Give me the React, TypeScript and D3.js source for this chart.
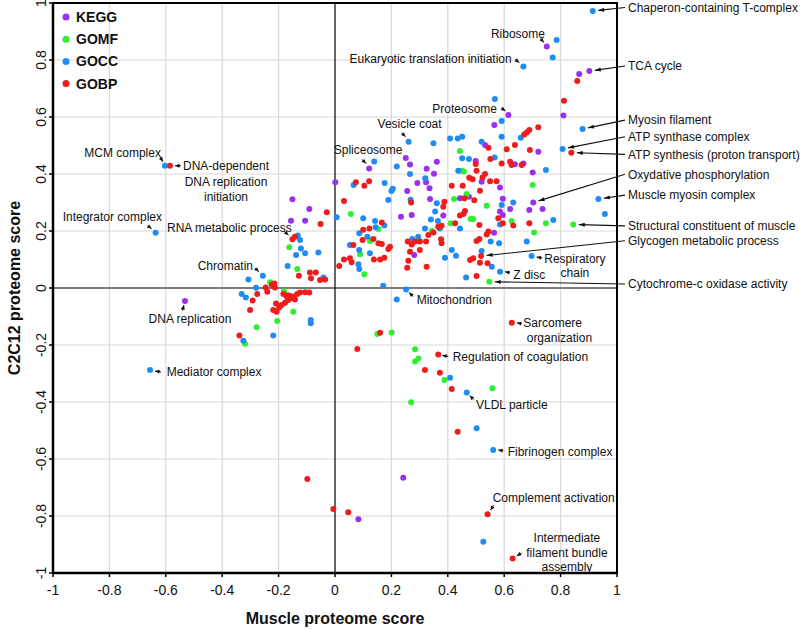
import React from 'react';
import * as d3 from 'd3';

type P = [number, number];

const categories = ['KEGG', 'GOMF', 'GOCC', 'GOBP'];
const tickValues = [-1, -0.8, -0.6, -0.4, -0.2, 0, 0.2, 0.4, 0.6, 0.8, 1];
const tickLabels = ['-1', '-0.8', '-0.6', '-0.4', '-0.2', '0', '0.2', '0.4', '0.6', '0.8', '1'];

const KEGG: P[] = [
  [0.751, 0.847], [0.902, 0.761], [0.866, 0.751], [0.81, 0.605], [0.615, 0.607], [0.565, 0.572],
  [0.532, 0.502], [0.721, 0.478], [0.499, 0.446], [0.638, 0.434], [0.668, 0.437], [0.701, 0.405],
  [0.52, 0.373], [0.585, 0.353], [0.475, 0.32], [0.443, 0.315], [0.703, 0.3], [0.689, 0.274],
  [0.736, 0.277], [0.621, 0.277], [0.585, 0.268], [0.595, 0.256], [0.564, 0.194], [0.384, 0.254],
  [0.361, 0.443], [0.325, 0.418], [0.351, 0.401], [0.323, 0.371], [0.335, 0.35], [0.337, 0.312],
  [0.251, 0.456], [0.121, 0.419], [0.266, 0.433], [0.256, 0.34], [0.292, 0.368], [0.001, 0.371],
  [0.234, 0.25], [0.272, 0.256], [0.281, 0.116], [-0.151, 0.311], [-0.091, 0.277], [-0.106, 0.236],
  [-0.156, 0.236], [-0.532, -0.046], [0.242, -0.666], [0.083, -0.811], [0.595, 0.313],
];

const GOMF: P[] = [
  [0.845, 0.223], [0.748, 0.227], [0.706, 0.195], [0.701, 0.361], [0.626, 0.235], [0.538, 0.289],
  [0.547, 0.022], [0.443, 0.481], [0.449, 0.411], [0.457, 0.409], [0.422, 0.312], [0.467, 0.33],
  [0.481, 0.242], [0.49, 0.242], [0.41, 0.227], [0.343, 0.2], [0.056, 0.26], [0.154, 0.207],
  [0.124, 0.165], [0.089, 0.118], [0.104, 0.048], [-0.162, 0.143], [-0.134, 0.067], [-0.23, 0.02],
  [-0.181, -0.011], [-0.148, -0.083], [-0.205, -0.116], [-0.278, -0.138], [-0.319, -0.196],
  [0.15, -0.161], [0.201, -0.156], [0.284, -0.215], [0.284, -0.258], [0.296, -0.247],
  [0.388, -0.323], [0.558, -0.352], [0.27, -0.401],
];

const GOCC: P[] = [
  [0.914, 0.972], [0.786, 0.87], [0.772, 0.809], [0.668, 0.777], [0.878, 0.558], [0.807, 0.488],
  [0.748, 0.414], [0.934, 0.312], [0.957, 0.26], [0.774, 0.239], [0.68, 0.163], [0.697, 0.112],
  [0.632, 0.3], [0.567, 0.663], [0.591, 0.586], [0.659, 0.527], [0.591, 0.531], [0.52, 0.513],
  [0.408, 0.525], [0.435, 0.525], [0.451, 0.531], [0.349, 0.508], [0.451, 0.455], [0.475, 0.453],
  [0.566, 0.458], [0.437, 0.411], [0.591, 0.291], [0.585, 0.223], [0.552, 0.163], [0.582, 0.157],
  [0.52, 0.13], [0.556, 0.075], [0.585, 0.057], [0.465, 0.037], [0.414, 0.133], [0.429, 0.113],
  [0.39, 0.106], [0.443, 0.209], [0.355, 0.268], [0.361, 0.297], [0.372, 0.209], [0.34, 0.24],
  [0.365, 0.235], [0.261, 0.513], [0.139, 0.444], [0.219, 0.426], [0.266, 0.4], [0.066, 0.361],
  [0.176, 0.368], [0.205, 0.348], [0.2, 0.34], [0.189, 0.309], [0.268, 0.31], [0.006, 0.248],
  [0.1, 0.245], [0.142, 0.235], [0.175, 0.219], [0.144, 0.213], [0.086, 0.192], [0.115, 0.18],
  [0.053, 0.151], [0.086, 0.133], [0.124, 0.122], [0.083, 0.083], [0.086, 0.067], [0.274, 0.172],
  [0.295, 0.18], [0.319, 0.209], [0.171, 0.008], [0.252, -0.005], [0.219, -0.04], [-0.132, 0.184],
  [-0.124, 0.168], [-0.121, 0.139], [-0.106, 0.122], [-0.059, 0.125], [-0.138, 0.116],
  [-0.168, 0.077], [-0.041, 0.037], [-0.256, 0.043], [-0.307, 0.03], [-0.28, 0.001],
  [-0.331, -0.021], [-0.316, -0.033], [-0.325, -0.185], [-0.219, -0.167], [-0.086, -0.112],
  [-0.086, -0.124], [-0.603, 0.429], [-0.636, 0.194], [-0.656, -0.288], [0.408, -0.315],
  [0.467, -0.367], [0.502, -0.492], [0.561, -0.568], [0.526, -0.89], [0.32, 0.385],
];

const GOBP: P[] = [
  [-0.585, 0.429], [0.859, 0.726], [0.812, 0.657], [0.838, 0.475], [0.721, 0.564], [0.689, 0.554],
  [0.68, 0.546], [0.671, 0.539], [0.638, 0.502], [0.609, 0.487], [0.691, 0.484], [0.544, 0.492],
  [0.551, 0.453], [0.591, 0.437], [0.621, 0.443], [0.626, 0.432], [0.662, 0.432], [0.499, 0.435],
  [0.502, 0.411], [0.532, 0.4], [0.523, 0.388], [0.55, 0.375], [0.476, 0.387], [0.488, 0.382],
  [0.573, 0.375], [0.414, 0.359], [0.453, 0.359], [0.514, 0.341], [0.459, 0.315], [0.388, 0.303],
  [0.494, 0.308], [0.455, 0.26], [0.443, 0.254], [0.461, 0.27], [0.378, 0.218], [0.426, 0.227],
  [0.512, 0.221], [0.595, 0.227], [0.689, 0.227], [0.632, 0.219], [0.579, 0.245], [0.544, 0.198],
  [0.538, 0.188], [0.512, 0.172], [0.502, 0.165], [0.376, 0.171], [0.378, 0.157], [0.518, 0.112],
  [0.49, 0.104], [0.479, 0.098], [0.514, 0.089], [0.541, 0.087], [0.502, 0.042], [0.074, 0.371],
  [0.121, 0.375], [0.104, 0.359], [0.032, 0.305], [0.27, 0.3], [-0.029, 0.266], [0.166, 0.23],
  [0.1, 0.204], [0.122, 0.209], [0.098, 0.168], [0.136, 0.172], [0.154, 0.157], [0.166, 0.154],
  [0.065, 0.151], [0.189, 0.137], [0.195, 0.145], [0.032, 0.1], [0.053, 0.104], [0.059, 0.09],
  [0.015, 0.077], [0.138, 0.1], [0.16, 0.1], [0.175, 0.106], [0.258, 0.163], [0.272, 0.153],
  [0.284, 0.163], [0.266, 0.127], [0.301, 0.133], [0.301, 0.163], [0.26, 0.096], [0.256, 0.071],
  [0.325, 0.075], [0.323, 0.163], [0.331, 0.186], [0.349, 0.195], [0.384, 0.285], [0.366, 0.215],
  [-0.035, 0.03], [-0.051, 0.225], [-0.151, 0.171], [-0.142, 0.18], [-0.128, 0.043],
  [-0.089, 0.054], [-0.068, 0.054], [-0.085, 0.034], [-0.053, 0.028], [-0.246, 0.002],
  [-0.224, 0.011], [-0.215, 0.016], [-0.213, 0.002], [-0.276, -0.021], [-0.292, -0.044],
  [-0.301, -0.077], [-0.339, -0.167], [-0.219, -0.077], [-0.24, -0.013], [-0.183, -0.021],
  [-0.171, -0.03], [-0.16, -0.028], [-0.148, -0.03], [-0.134, -0.021], [-0.124, -0.016],
  [-0.106, -0.015], [-0.091, -0.016], [-0.157, -0.036], [-0.166, -0.042], [-0.177, -0.052],
  [-0.189, -0.06], [-0.198, -0.068], [-0.207, -0.083], [-0.209, -0.054], [-0.166, -0.025],
  [-0.142, -0.04], [0.16, -0.157], [0.079, -0.214], [0.627, -0.122], [0.366, -0.233],
  [0.319, -0.288], [0.372, -0.297], [0.414, -0.354], [0.435, -0.504], [0.541, -0.794],
  [0.63, -0.949], [-0.098, -0.67], [-0.006, -0.775], [0.047, -0.787],
];

const seriesData: P[][] = [KEGG, GOMF, GOCC, GOBP];
const colors = ['#9a2ff0', '#2fef2f', '#1f8cf5', '#f01c1c'];

// Short-arrow annotations inside the plot (offsets in px relative to the target point)
type Ann = {
  target: P;
  tip: P;
  tail: P;
  anchor: 'start' | 'middle' | 'end';
  lines: [string, number, number][];
};
const innerAnnotations: Ann[] = [
  { target: [-0.603, 0.429], tip: [-2, -4], tail: [-5, -9], anchor: 'end', lines: [['MCM complex', -4, -12.7]] },
  { target: [-0.585, 0.429], tip: [5, 0], tail: [11, 0], anchor: 'middle', lines: [['DNA-dependent', 56, 0], ['DNA replication', 56, 15.5], ['initiation', 56, 31]] },
  { target: [-0.636, 0.194], tip: [-4, -4], tail: [-8, -7], anchor: 'end', lines: [['Integrator complex', 6.4, -16]] },
  { target: [-0.151, 0.171], tip: [-4, -4], tail: [-8, -8], anchor: 'start', lines: [['RNA metabolic process', -125.4, -11.6]] },
  { target: [-0.256, 0.043], tip: [-4, -4], tail: [-8, -8], anchor: 'end', lines: [['Chromatin', -9.8, -9.7]] },
  { target: [-0.532, -0.046], tip: [-1, 4], tail: [-2.5, 9.5], anchor: 'middle', lines: [['DNA replication', 5, 17.2]] },
  { target: [-0.656, -0.288], tip: [5, 1], tail: [11, 2], anchor: 'start', lines: [['Mediator complex', 16.7, 1.6]] },
  { target: [0.121, 0.419], tip: [-3, -5], tail: [-7, -9], anchor: 'middle', lines: [['Spliceosome', -1, -18.6]] },
  { target: [0.261, 0.513], tip: [-3, -5], tail: [-7, -9], anchor: 'middle', lines: [['Vesicle coat', 1, -17.8]] },
  { target: [0.615, 0.607], tip: [-3, -4], tail: [-7, -7], anchor: 'end', lines: [['Proteosome', -11.4, -6.7]] },
  { target: [0.668, 0.777], tip: [-4, -4], tail: [-8, -7], anchor: 'end', lines: [['Eukaryotic translation initiation', -11.7, -7.9]] },
  { target: [0.751, 0.847], tip: [-3, -4], tail: [-6, -8], anchor: 'end', lines: [['Ribosome', -1.8, -13.3]] },
  { target: [0.252, -0.005], tip: [3, 3], tail: [7, 7], anchor: 'start', lines: [['Mitochondrion', 10.6, 9.9]] },
  { target: [0.697, 0.112], tip: [5, 1], tail: [11, 2], anchor: 'middle', lines: [['Respiratory', 43.4, 3], ['chain', 43.4, 16.3]] },
  { target: [0.585, 0.057], tip: [5, 0], tail: [10, 1], anchor: 'start', lines: [['Z disc', 13.3, 2.5]] },
  { target: [0.627, -0.122], tip: [5, 0], tail: [10, 1], anchor: 'start', lines: [['Sarcomere', 11.5, 0.2], ['organization', 14.9, 14.5]] },
  { target: [0.366, -0.233], tip: [4, 1], tail: [10, 2], anchor: 'start', lines: [['Regulation of coagulation', 14.5, 2.3]] },
  { target: [0.467, -0.367], tip: [3, 3], tail: [7, 7], anchor: 'start', lines: [['VLDL particle', 9.3, 11.7]] },
  { target: [0.561, -0.568], tip: [5, 0], tail: [10, 1], anchor: 'start', lines: [['Fibrinogen complex', 14.5, 2.1]] },
  { target: [0.541, -0.794], tip: [3, -4], tail: [6, -9], anchor: 'start', lines: [['Complement activation', 5.1, -17]] },
  { target: [0.63, -0.949], tip: [4, -2.5], tail: [9, -5.5], anchor: 'middle', lines: [['Intermediate', 54.3, -20.8], ['filament bundle', 54.3, -6.2], ['assembly', 54.3, 8.2]] },
];

// Long-arrow annotations on the right side (label y in data units)
const rightLabels: { text: string; labelY: number; target: P }[] = [
  { text: 'Chaperon-containing T-complex', labelY: 0.984, target: [0.914, 0.972] },
  { text: 'TCA cycle', labelY: 0.779, target: [0.902, 0.761] },
  { text: 'Myosin filament', labelY: 0.589, target: [0.878, 0.558] },
  { text: 'ATP synthase complex', labelY: 0.531, target: [0.807, 0.488] },
  { text: 'ATP synthesis (proton transport)', labelY: 0.469, target: [0.838, 0.475] },
  { text: 'Oxydative phosphorylation', labelY: 0.399, target: [0.703, 0.3] },
  { text: 'Muscle myosin complex', labelY: 0.326, target: [0.934, 0.312] },
  { text: 'Structural constituent of muscle', labelY: 0.218, target: [0.845, 0.223] },
  { text: 'Glycogen metabolic process', labelY: 0.166, target: [0.518, 0.112] },
  { text: 'Cytochrome-c oxidase activity', labelY: 0.014, target: [0.547, 0.022] },
];

const FONT = '"Liberation Sans", Arial, Helvetica, sans-serif';

function arrowHead(tx: number, ty: number, fx: number, fy: number, L: number, Wd: number) {
  const dx = tx - fx, dy = ty - fy;
  const len = Math.hypot(dx, dy) || 1;
  const ux = dx / len, uy = dy / len;
  const bx = tx - ux * L, by = ty - uy * L;
  const px = -uy * Wd / 2, py = ux * Wd / 2;
  return `M${tx},${ty}L${bx + px},${by + py}L${bx - px},${by - py}Z`;
}

export default function App() {
  const W = 800, H = 629;
  const x = d3.scaleLinear().domain([-1, 1]).range([53, 617]);
  const y = d3.scaleLinear().domain([-1, 1]).range([573, 3]);

  return (
    <svg width={W} height={H} style={{ position: 'absolute', left: 0, top: 0, background: '#fff' }} fontFamily={FONT}>
      <rect x={0} y={0} width={W} height={H} fill="#fff" />
      {/* grid */}
      {tickValues.filter(t => t !== 0 && Math.abs(t) !== 1).map(t => (
        <g key={'g' + t}>
          <line x1={x(t)} x2={x(t)} y1={y(1)} y2={y(-1)} stroke="#d9d9d9" strokeWidth={1.2} />
          <line x1={x(-1)} x2={x(1)} y1={y(t)} y2={y(t)} stroke="#d9d9d9" strokeWidth={1.2} />
        </g>
      ))}
      {/* zero lines */}
      <line x1={x(-1)} x2={x(1)} y1={y(0)} y2={y(0)} stroke="#7d7d7d" strokeWidth={2} />
      <line x1={x(0)} x2={x(0)} y1={y(1)} y2={y(-1)} stroke="#000" strokeWidth={1.2} />
      {/* border */}
      <rect x={x(-1)} y={y(1)} width={x(1) - x(-1)} height={y(-1) - y(1)} fill="none" stroke="#000" strokeWidth={2} />
      <line x1={x(-1)} x2={x(-1)} y1={y(1)} y2={y(-1)} stroke="#000" strokeWidth={2.5} />
      <line x1={x(-1)} x2={x(1)} y1={y(-1)} y2={y(-1)} stroke="#000" strokeWidth={2.5} />
      {/* ticks and tick labels */}
      {tickValues.map((t, i) => (
        <g key={'t' + i}>
          <line x1={x(t)} x2={x(t)} y1={y(-1)} y2={y(-1) + 4} stroke="#000" strokeWidth={1.5} />
          <text x={x(t)} y={595} fontSize={14} textAnchor="middle" fill="#111">{tickLabels[i]}</text>
          <line x1={x(-1) - 4} x2={x(-1)} y1={y(t)} y2={y(t)} stroke="#000" strokeWidth={1.5} />
          <text transform={`translate(45.5,${y(t)}) rotate(-90)`} fontSize={14} textAnchor="middle" fill="#111">{tickLabels[i]}</text>
        </g>
      ))}
      {/* axis titles */}
      <text x={x(0)} y={624} fontSize={16} fontWeight="bold" textAnchor="middle" fill="#111">Muscle proteome score</text>
      <text transform={`translate(20,${y(0)}) rotate(-90)`} fontSize={16} fontWeight="bold" textAnchor="middle" fill="#111">C2C12 proteome score</text>
      {/* points */}
      {seriesData.map((pts, si) => (
        <g key={'s' + si} fill={colors[si]}>
          {pts.map((p, i) => (
            <circle key={i} cx={x(p[0])} cy={y(p[1])} r={3} />
          ))}
        </g>
      ))}
      {/* legend */}
      {categories.map((c, i) => (
        <g key={'l' + c}>
          <circle cx={66} cy={17 + i * 22.2} r={3.5} fill={colors[i]} />
          <text x={76} y={17 + i * 22.2 + 5} fontSize={14} fontWeight="bold" fill="#111">{c}</text>
        </g>
      ))}
      {/* inner annotations */}
      {innerAnnotations.map((a, i) => {
        const cx = x(a.target[0]), cy = y(a.target[1]);
        const tx = cx + a.tip[0], ty = cy + a.tip[1];
        const fx = cx + a.tail[0], fy = cy + a.tail[1];
        return (
          <g key={'a' + i}>
            <line x1={fx} y1={fy} x2={tx} y2={ty} stroke="#111" strokeWidth={1} />
            <path d={arrowHead(tx, ty, fx, fy, 4.5, 4)} fill="#111" />
            {a.lines.map((ln, j) => (
              <text key={j} x={cx + ln[1]} y={cy + ln[2] + 4.3} fontSize={12} textAnchor={a.anchor} fill="#111">{ln[0]}</text>
            ))}
          </g>
        );
      })}
      {/* right annotations */}
      {rightLabels.map((r, i) => {
        const ly = y(r.labelY);
        const lx = x(1) + 11;
        const cx = x(r.target[0]), cy = y(r.target[1]);
        const sx = lx - 3, sy = ly;
        const dx = cx - sx, dy = cy - sy;
        const len = Math.hypot(dx, dy);
        const ex = cx - (dx / len) * 5.5, ey = cy - (dy / len) * 5.5;
        return (
          <g key={'r' + i}>
            <line x1={sx} y1={sy} x2={ex} y2={ey} stroke="#111" strokeWidth={1.1} />
            <path d={arrowHead(ex, ey, sx, sy, 6, 4)} fill="#111" />
            <text x={lx} y={ly + 4.3} fontSize={12} fill="#111">{r.text}</text>
          </g>
        );
      })}
    </svg>
  );
}
